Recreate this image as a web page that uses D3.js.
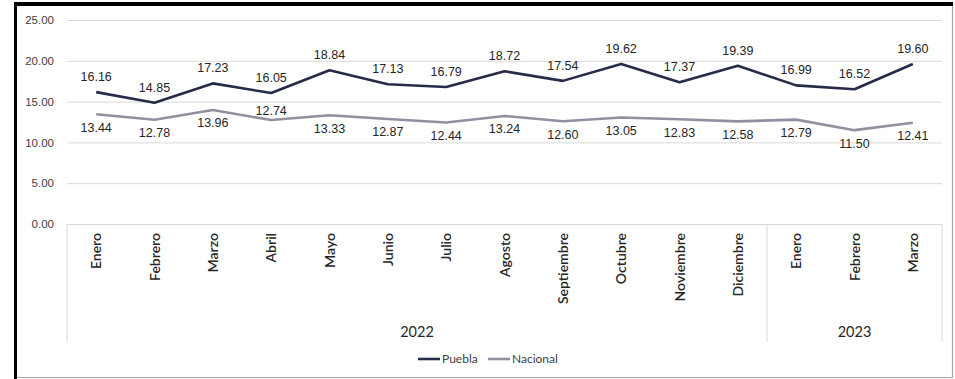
<!DOCTYPE html>
<html><head><meta charset="utf-8">
<script src="https://cdn.jsdelivr.net/npm/d3@7"></script>
<style>body{margin:0;background:#fff}svg{display:block}</style></head>
<body><svg id="c" width="955" height="379"></svg>
<script>
const months = ["Enero","Febrero","Marzo","Abril","Mayo","Junio","Julio","Agosto","Septiembre","Octubre","Noviembre","Diciembre","Enero","Febrero","Marzo"];
const yearLabels = ["2022","2023"];
const yearCounts = [12,3];
const puebla = [16.16,14.85,17.23,16.05,18.84,17.13,16.79,18.72,17.54,19.62,17.37,19.39,16.99,16.52,19.60];
const nacional = [13.44,12.78,13.96,12.74,13.33,12.87,12.44,13.24,12.60,13.05,12.83,12.58,12.79,11.50,12.41];
const yTicks = [0,5,10,15,20,25];
const nacionalLabelSide = ["below","below","below","above","below","below","below","below","below","below","below","below","below","below","below"];

const svg = d3.select("#c");
const L = 67, R = 942, T = 20, B = 224, axisBottom = 342;
const idx = months.map((m,i)=>i);
const x = d3.scaleBand().domain(idx).range([L,R]);
const cx = i => x(i) + x.bandwidth()/2;
const y = d3.scaleLinear().domain([0,25]).range([B,T]);

// frame
svg.append("line").attr("x1",15.5).attr("x2",15.5).attr("y1",2).attr("y2",379).attr("stroke","#000").attr("stroke-width",3);
svg.append("line").attr("x1",14).attr("x2",953).attr("y1",4).attr("y2",4).attr("stroke","#000").attr("stroke-width",4);
svg.append("line").attr("x1",952.5).attr("x2",952.5).attr("y1",6).attr("y2",378).attr("stroke","#a6a6a6").attr("stroke-width",1.2);
svg.append("line").attr("x1",17).attr("x2",953).attr("y1",377.5).attr("y2",377.5).attr("stroke","#a6a6a6").attr("stroke-width",1.2);

// gridlines + y labels
const yAxis = d3.axisLeft(y).tickValues(yTicks).tickFormat(d3.format(".2f")).tickSize(-(R-L)).tickPadding(13);
const gy = svg.append("g").attr("transform",`translate(${L},0)`).call(yAxis);
gy.select(".domain").remove();
gy.selectAll(".tick line").attr("stroke","#d9d9d9").attr("stroke-width",1);
gy.selectAll(".tick text").attr("font-family","'Liberation Sans', Arial, sans-serif").attr("font-size","11.5px").attr("fill","#404040");

// category axis structure
const axisColor = "#d9d9d9";
let acc = 0;
const bounds = [0];
yearCounts.forEach(c=>{acc+=c;bounds.push(acc);});
bounds.forEach(b=>{
  const xx = b < months.length ? x(b) : R;
  svg.append("line").attr("x1",xx).attr("x2",xx).attr("y1",B).attr("y2",axisBottom).attr("stroke",axisColor).attr("stroke-width",1);
});

// month labels
svg.append("g").selectAll("text").data(months).join("text")
  .attr("transform",(d,i)=>`translate(${cx(i)},233) rotate(-90)`)
  .attr("text-anchor","end").attr("dy","0.36em")
  .attr("font-family","Lato, 'Open Sans', sans-serif").attr("font-size","14px").attr("font-weight","600")
  .attr("fill","#262626").text(d=>d);

// year labels
svg.append("g").selectAll("text").data(yearLabels).join("text")
  .attr("x",(d,i)=>{const a=x(bounds[i]); const b= bounds[i+1]<months.length? x(bounds[i+1]) : R; return (a+b)/2;})
  .attr("y",337).attr("text-anchor","middle")
  .attr("font-family","Lato, 'Open Sans', sans-serif").attr("font-size","14.5px")
  .attr("fill","#262626").text(d=>d);

// lines
const line = d3.line().x((d,i)=>cx(i)).y(d=>y(d));
const cP = "#262b4a", cN = "#9090a0";
svg.append("path").datum(nacional).attr("d",line).attr("fill","none").attr("stroke",cN).attr("stroke-width",2.6).attr("stroke-linejoin","round");
svg.append("path").datum(puebla).attr("d",line).attr("fill","none").attr("stroke",cP).attr("stroke-width",2.6).attr("stroke-linejoin","round");

// data labels
const lblFont = "'Liberation Sans', Arial, sans-serif";
svg.append("g").selectAll("text").data(puebla).join("text")
  .attr("x",(d,i)=>cx(i)).attr("y",d=>y(d)-15.5).attr("dy","0.35em")
  .attr("text-anchor","middle").attr("font-family",lblFont).attr("font-size","12.5px").attr("fill","#262626")
  .text(d=>d3.format(".2f")(d));
svg.append("g").selectAll("text").data(nacional).join("text")
  .attr("x",(d,i)=>cx(i)).attr("y",(d,i)=>nacionalLabelSide[i]==="above"? y(d)-9 : y(d)+13).attr("dy","0.35em")
  .attr("text-anchor","middle").attr("font-family",lblFont).attr("font-size","12.5px").attr("fill","#262626")
  .text(d=>d3.format(".2f")(d));

// legend
const leg = [{n:"Puebla",c:cP,x:418},{n:"Nacional",c:cN,x:488}];
const lg = svg.append("g");
leg.forEach(l=>{
  lg.append("line").attr("x1",l.x).attr("x2",l.x+22).attr("y1",359).attr("y2",359).attr("stroke",l.c).attr("stroke-width",2.6);
  lg.append("text").attr("x",l.x+24).attr("y",359).attr("dy","0.35em").attr("font-family","Lato, 'Open Sans', sans-serif").attr("font-size","12px").attr("fill","#404040").text(l.n);
});
</script></body></html>
